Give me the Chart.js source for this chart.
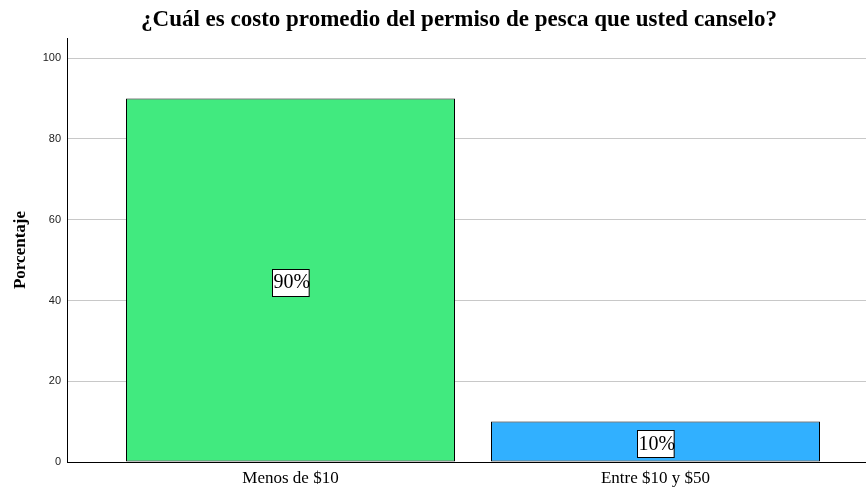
<!DOCTYPE html>
<html><head><meta charset="utf-8">
<script src="https://cdn.jsdelivr.net/npm/chart.js@4"></script>
<style>html,body{margin:0;padding:0;background:#fff}#wrap{width:866px;height:488px}</style>
</head><body><div id="wrap"><canvas id="c" width="866" height="488"></canvas></div>
<script>
const titleText = '¿Cuál es costo promedio del permiso de pesca que usted canselo?';
const categories = ['Menos de $10', 'Entre $10 y $50'];
const percentages = [90, 10];
const barColors = ['#41EA7F', '#31B0FF'];
const yTicks = [0, 20, 40, 60, 80, 100];
const yAxisTitle = 'Porcentaje';

const points = percentages.map((v, i) => ({x: i, y: v}));

const titlePlugin = {
  id: 'ctitle',
  afterDraw(chart) {
    const ctx = chart.ctx;
    ctx.save();
    ctx.font = 'bold 23px "Liberation Serif", "Times New Roman", serif';
    ctx.fillStyle = '#000';
    ctx.textAlign = 'center';
    ctx.textBaseline = 'middle';
    ctx.fillText(titleText, 459, 20);
    ctx.restore();
  }
};

const labelPlugin = {
  id: 'boxlabels',
  afterDatasetsDraw(chart) {
    const ctx = chart.ctx;
    const meta = chart.getDatasetMeta(0);
    ctx.save();
    ctx.font = '20px "Liberation Serif", "Times New Roman", serif';
    ctx.textBaseline = 'middle';
    ctx.textAlign = 'left';
    meta.data.forEach((bar, i) => {
      const txt = percentages[i] + '%';
      const cx = bar.x;
      const cy = (bar.y + bar.base) / 2 + 2;
      const w = ctx.measureText(txt).width;
      const bw = w, bh = 27;
      const bx = Math.round(cx - bw / 2) + 0.5, by = Math.round(cy - bh / 2) + 0.5;
      ctx.fillStyle = '#fff';
      ctx.fillRect(bx, by, bw, bh);
      ctx.strokeStyle = '#000';
      ctx.lineWidth = 1;
      ctx.strokeRect(bx, by, bw, bh);
      ctx.fillStyle = '#000';
      ctx.fillText(txt, bx + 1, cy + 1);
    });
    ctx.restore();
  }
};

new Chart(document.getElementById('c'), {
  type: 'bar',
  data: {
    datasets: [{
      data: points,
      backgroundColor: barColors,
      borderColor: '#000',
      borderWidth: 1,
      borderSkipped: false,
      barPercentage: 329 / 365,
      categoryPercentage: 1.0
    }]
  },
  options: {
    responsive: false,
    animation: false,
    events: [],
    layout: {padding: {top: 38, right: 0, left: 0, bottom: 0}},
    plugins: {legend: {display: false}, title: {display: false}, tooltip: {enabled: false}},
    scales: {
      x: {
        type: 'linear',
        offset: false,
        grace: 0,
        min: -223.5 / 365,
        max: 575.5 / 365,
        grid: {display: false, drawTicks: false, offset: false},
        border: {display: true, color: '#000', width: 1},
        afterBuildTicks(scale) { scale.ticks = categories.map((c, i) => ({value: i})); },
        ticks: {
          callback: (v) => categories[v] !== undefined ? categories[v] : '',
          color: '#000',
          padding: 6,
          maxRotation: 0,
          autoSkip: false,
          font: {family: '"Liberation Serif", "Times New Roman", serif', size: 17}
        },
        afterFit(scale) { scale.height = 26; }
      },
      y: {
        min: 0,
        max: 105,
        afterBuildTicks(scale) { scale.ticks = yTicks.map(v => ({value: v})); },
        grid: {color: '#c8c8c8', lineWidth: 1, drawTicks: false},
        border: {display: true, color: '#000', width: 1},
        ticks: {
          color: '#222',
          padding: 6,
          font: {family: '"Liberation Sans", Arial, sans-serif', size: 11}
        },
        title: {
          display: true,
          text: yAxisTitle,
          color: '#000',
          padding: {top: 10, bottom: 0},
          font: {family: '"Liberation Serif", "Times New Roman", serif', size: 17, weight: 'bold'}
        },
        afterFit(scale) { scale.width = 67; }
      }
    }
  },
  plugins: [titlePlugin, labelPlugin]
});
</script>
</body></html>
